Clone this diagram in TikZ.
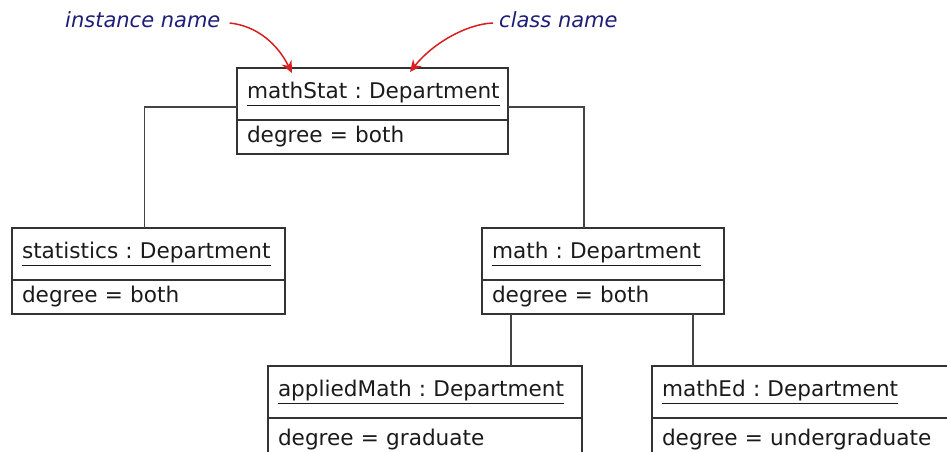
\documentclass[tikz,border=0pt]{standalone}
\usepackage{fontspec}
\setmainfont{DejaVu Sans}
\usetikzlibrary{calc,arrows.meta}
\definecolor{boxline}{HTML}{333333}
\definecolor{linkgrey}{HTML}{444444}
\definecolor{notetext}{HTML}{1E1E78}
\definecolor{pointred}{HTML}{D81E1E}
\definecolor{objtext}{HTML}{1A1A1A}
\frenchspacing

\begin{document}
\begin{tikzpicture}[x=1pt,y=-1pt,
    head/.style={draw=boxline, line width=1.3pt, outer sep=0pt, anchor=north west, inner xsep=10pt, minimum height=52pt, align=left, text=objtext, font=\fontsize{21.6}{24}\selectfont},
    attr/.style={draw=boxline, line width=1.3pt, outer sep=0pt, anchor=north, inner xsep=10pt, minimum height=34pt, align=left, text=objtext, font=\fontsize{21.6}{24}\selectfont},
    link/.style={draw=linkgrey, line width=1.7pt},
    note/.style={text=notetext, inner sep=3pt, font=\fontsize{21}{24}\selectfont\itshape},
    pointer/.style={draw=pointred, line width=1.5pt, -{Stealth[length=12pt,width=11pt]}}]

    \useasboundingbox (0,0) rectangle (947,451);
    \clip (0,0) rectangle (947,451);

    \node[head,text width=251pt] (MS) at (237,68) {\underline{mathStat : Department}};
    \node[attr,text width=251pt] (MSa) at (MS.south) {degree = both};
    \node[head,text width=253pt] (ST) at (12,228) {\underline{statistics : Department}};
    \node[attr,text width=253pt] (STa) at (ST.south) {degree = both};
    \node[head,text width=222pt] (MA) at (482,228) {\underline{math : Department}};
    \node[attr,text width=222pt] (MAa) at (MA.south) {degree = both};
    \node[head,text width=294pt] (AM) at (268,366) {\underline{appliedMath : Department}};
    \node[attr,text width=294pt,minimum height=44pt] (AMa) at (AM.south) {degree = graduate};
    \node[head,text width=290pt] (ME) at (652,366) {\underline{mathEd : Department}};
    \node[attr,text width=290pt,minimum height=44pt] (MEa) at (ME.south) {degree = undergraduate};

    \draw[link] ([yshift=-13pt]MS.west) -| ([xshift=-4pt]ST.north);
    \draw[link] ([yshift=-13pt]MS.east) -| ([xshift=-19pt]MA.north);
    \draw[link] ([xshift=-92pt]MAa.south) -- ([xshift=-92pt]MAa.south |- AM.north);
    \draw[link] ([xshift=90pt]MAa.south) -- ([xshift=90pt]MAa.south |- ME.north);

    \node[note,anchor=west] (IN) at (62,20) {instance name};
    \node[note,anchor=west] (CN) at (496,20) {class name};
    \draw[pointer] ([xshift=6pt,yshift=-3pt]IN.east) .. controls (258,26) and (278,45) .. ([xshift=55pt,yshift=-5pt]MS.north west);
    \draw[pointer] ([xshift=-3pt,yshift=-3pt]CN.west) .. controls (466,24) and (432,44) .. ([xshift=173pt,yshift=-4pt]MS.north west);
\end{tikzpicture}
\end{document}
